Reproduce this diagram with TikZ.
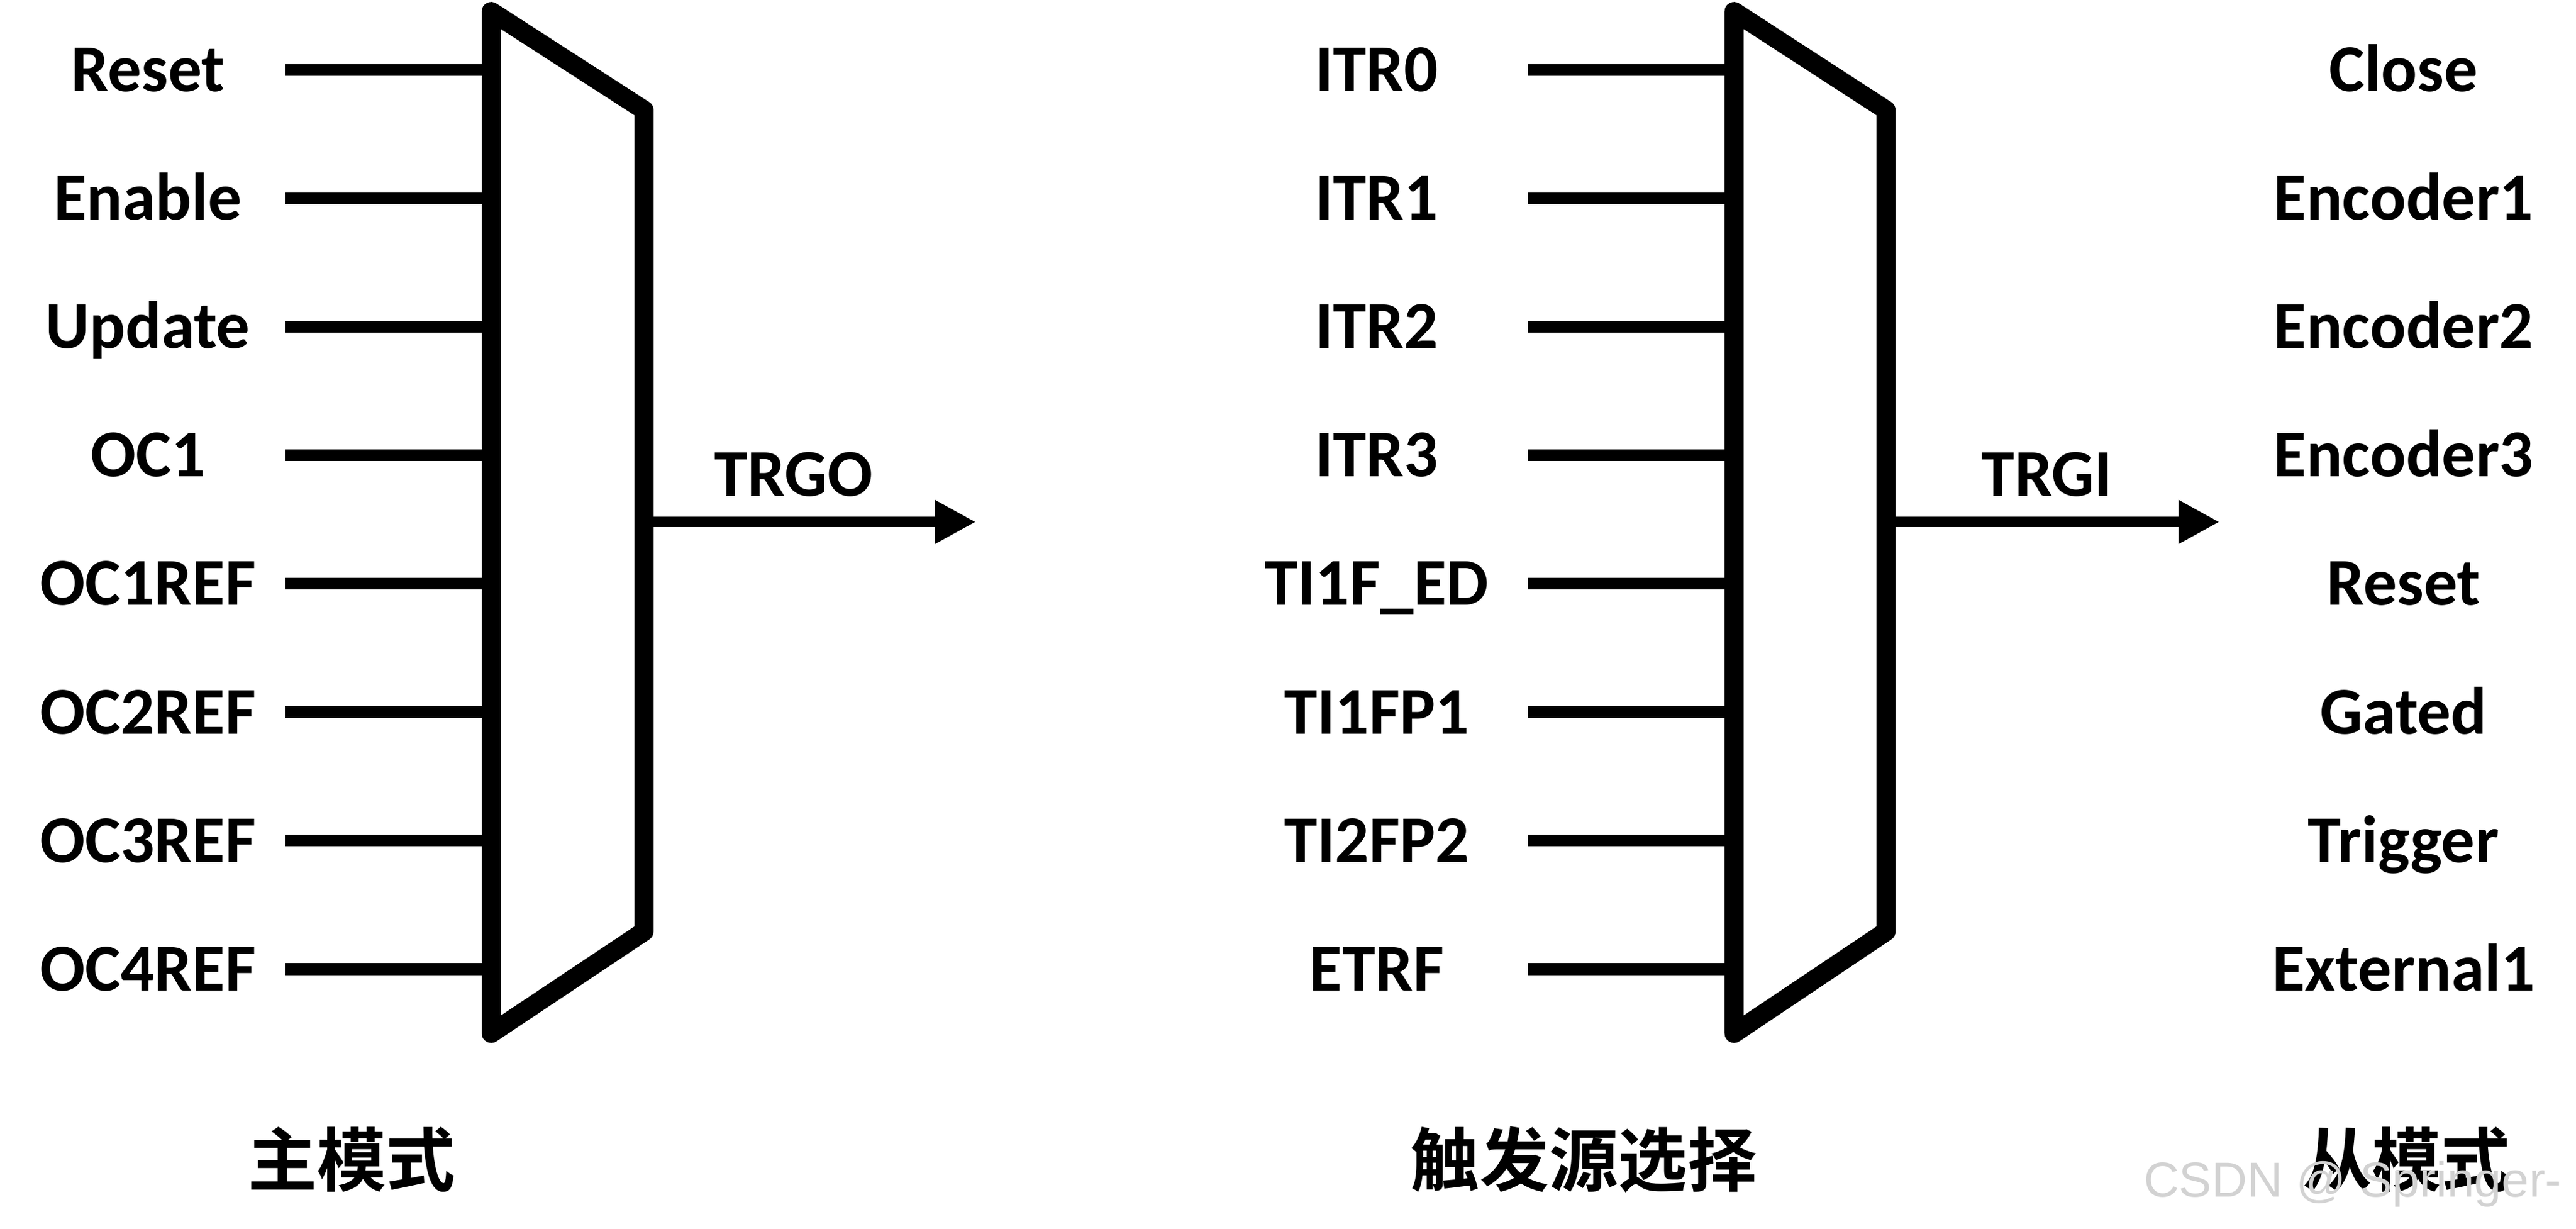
\documentclass[tikz,border=0pt]{standalone}
\usepackage{fontspec}
\setmainfont{Carlito}
\newfontfamily\cjk{Noto Sans CJK SC}[BoldFont={Noto Sans CJK SC Bold}]
\newfontfamily\markfont{Liberation Sans}
\usetikzlibrary{arrows.meta}

\begin{document}
\begin{tikzpicture}[
    mux/.style={line width=1.16mm,line join=round},
    wire/.style={line width=0.71mm},
    output/.style={-{Triangle[length=2.5mm,width=2.5mm]},line width=0.64mm},
    signal/.style={inner sep=0pt,text height=7.47pt,text depth=0pt,font=\fontsize{11.6}{12}\selectfont\bfseries},
    caption/.style={inner sep=0pt,font=\fontsize{12}{14}\selectfont\cjk\bfseries}
]
\useasboundingbox (0,0) rectangle (15.68,7.477);

% Master mode mux
\coordinate (m1tl) at (2.99,7.407);
\coordinate (m1tr) at (3.92,6.807);
\coordinate (m1br) at (3.92,1.807);
\coordinate (m1bl) at (2.99,1.187);
\draw[mux] (m1tl) -- (m1tr) -- (m1br) -- (m1bl) -- cycle;

\foreach \txt [count=\i from 0] in {Reset,Enable,Update,OC1,OC1REF,OC2REF,OC3REF,OC4REF} {
    \node[signal] (min\i) at (0.90,{7.052-0.782*\i}) {\txt};
    \coordinate (ma\i) at (1.735,{7.052-0.782*\i});
    \draw[wire] (ma\i) -- (ma\i -| m1tl);
}

% TRGO
\coordinate (trgo) at (3.92,4.30);
\coordinate (trgoend) at (5.94,4.30);
\draw[output] (trgo) -- (trgoend);
\node[signal] (trgolbl) at (4.83,4.587) {TRGO};

% Trigger source mux
\coordinate (m2tl) at (10.555,7.407);
\coordinate (m2tr) at (11.48,6.807);
\coordinate (m2br) at (11.48,1.807);
\coordinate (m2bl) at (10.555,1.187);
\draw[mux] (m2tl) -- (m2tr) -- (m2br) -- (m2bl) -- cycle;

\foreach \txt [count=\i from 0] in {ITR0,ITR1,ITR2,ITR3,TI1F\_ED,TI1FP1,TI2FP2,ETRF} {
    \node[signal] (tin\i) at (8.38,{7.052-0.782*\i}) {\txt};
    \coordinate (ta\i) at (9.30,{7.052-0.782*\i});
    \draw[wire] (ta\i) -- (ta\i -| m2tl);
}

% TRGI
\coordinate (trgi) at (11.48,4.30);
\coordinate (trgiend) at (13.51,4.30);
\draw[output] (trgi) -- (trgiend);
\node[signal] (trgilbl) at (12.46,4.587) {TRGI};

% Slave modes
\foreach \txt [count=\i from 0] in {Close,Encoder1,Encoder2,Encoder3,Reset,Gated,Trigger,External1} {
    \node[signal] (slv\i) at (14.63,{7.052-0.782*\i}) {\txt};
}

% Captions
\node[caption] (cap1) at (2.14,0.42) {主模式};
\node[caption] (cap2) at (9.64,0.42) {触发源选择};
\node[caption] (cap3) at (14.65,0.42) {从模式};

\node[anchor=east,inner sep=0pt,text=gray!35,font=\fontsize{8.5}{10}\selectfont\markfont] (mark) at (15.60,0.27) {CSDN @ Springer-};

\end{tikzpicture}
\end{document}
